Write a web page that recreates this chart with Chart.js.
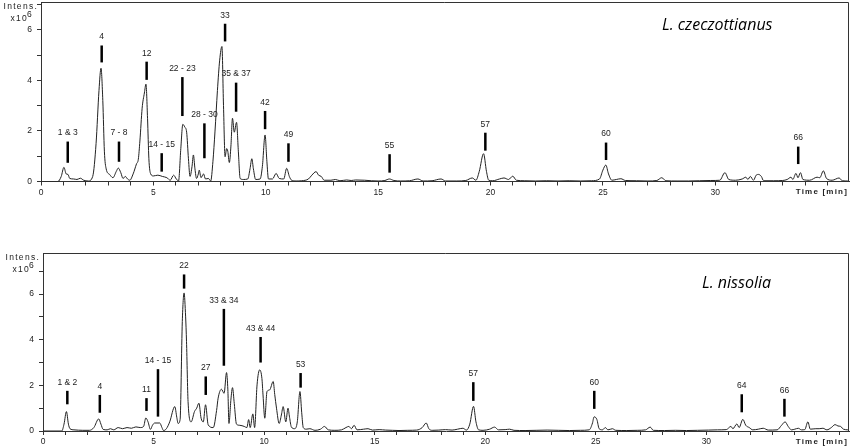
<!DOCTYPE html>
<html>
<head>
<meta charset="utf-8">
<script src="https://cdn.jsdelivr.net/npm/chart.js@4.4.1/dist/chart.umd.min.js"></script>
<style>
    html, body { margin: 0; padding: 0; background: #fff; }
    #wrap { position: relative; width: 851px; height: 447px; overflow: hidden; }
    canvas { position: absolute; left: 0; }
</style>
</head>
<body>
<div id="wrap">
    <canvas id="topChart" width="851" height="225" style="top:-20px"></canvas>
    <canvas id="bottomChart" width="851" height="227" style="top:220px"></canvas>
</div>
<script>
// tick labels shown on the axes
const timeTickLabels = [0, 5, 10, 15, 20, 25, 30];
const intensTickLabels = [0, 2, 4, 6];

// L. czeczottianus trace: [time (min), intensity (x10^6)]
const czeczottianusTrace = [
    [0.0, 0], [0.75, 0], [0.9, 0.2], [1.02, 0.56], [1.12, 0.3], [1.2, 0.28], [1.28, 0.12],
    [1.45, 0.1], [1.6, 0.08], [1.75, 0.13], [1.9, 0.05], [2.1, 0.02], [2.3, 0.2], [2.45, 1.5],
    [2.58, 3.6], [2.67, 4.48], [2.75, 3.2], [2.82, 1.2], [2.9, 0.5], [3.05, 0.28], [3.2, 0.15],
    [3.35, 0.4], [3.44, 0.53], [3.55, 0.35], [3.65, 0.12], [3.75, 0.2], [3.85, 0.1], [3.95, 0.05],
    [4.1, 0.3], [4.25, 0.7], [4.33, 0.88], [4.4, 1.6], [4.5, 2.9], [4.6, 3.5], [4.67, 3.85],
    [4.74, 2.5], [4.8, 0.9], [4.88, 0.3], [5.0, 0.22], [5.2, 0.25], [5.4, 0.2], [5.6, 0.15],
    [5.75, 0.05], [5.9, 0.25], [6.02, 0.1], [6.12, 0.02], [6.22, 1.3], [6.31, 2.26], [6.4, 2.15],
    [6.48, 1.95], [6.56, 0.9], [6.63, 0.2], [6.72, 0.6], [6.78, 1.05], [6.85, 0.5], [6.92, 0.12],
    [7.0, 0.3], [7.04, 0.45], [7.12, 0.15], [7.23, 0.3], [7.32, 0.1], [7.45, 0.12], [7.55, 0.02],
    [7.65, 0.8], [7.74, 1.96], [7.85, 3.6], [7.95, 4.8], [8.05, 5.34], [8.12, 3.0], [8.19, 0.98],
    [8.26, 1.3], [8.31, 1.2], [8.38, 0.75], [8.45, 1.4], [8.52, 2.5], [8.6, 1.95], [8.7, 2.34],
    [8.78, 1.2], [8.86, 0.12], [9.0, 0.08], [9.2, 0.1], [9.3, 0.5], [9.38, 0.9], [9.45, 0.5],
    [9.55, 0.08], [9.75, 0.1], [9.85, 0.6], [9.97, 1.84], [10.05, 0.8], [10.12, 0.1], [10.3, 0.1],
    [10.46, 0.32], [10.6, 0.12], [10.8, 0.1], [10.93, 0.52], [11.05, 0.2], [11.15, 0.05],
    [11.35, 0.02], [11.6, 0.03], [11.9, 0.1], [12.05, 0.25], [12.24, 0.39], [12.35, 0.25],
    [12.47, 0.2], [12.6, 0.05], [12.9, 0.05], [13.1, 0.08], [13.3, 0.03], [13.6, 0.06],
    [13.8, 0.04], [14.0, 0.06], [14.4, 0.05], [14.7, 0.03], [15.0, 0.02], [15.3, 0.04],
    [15.5, 0.1], [15.7, 0.04], [16.0, 0.02], [16.4, 0.03], [16.77, 0.1], [17.0, 0.02],
    [17.4, 0.03], [17.8, 0.1], [18.0, 0.02], [18.5, 0.02], [18.9, 0.04], [19.19, 0.14],
    [19.35, 0.05], [19.5, 0.4], [19.69, 1.1], [19.82, 0.4], [19.92, 0.05], [20.1, 0.03],
    [20.4, 0.1], [20.6, 0.14], [20.8, 0.08], [20.99, 0.21], [21.15, 0.05], [21.5, 0.03],
    [22.0, 0.02], [22.5, 0.03], [23.0, 0.02], [23.5, 0.03], [24.0, 0.02], [24.5, 0.03],
    [24.85, 0.1], [25.0, 0.45], [25.13, 0.65], [25.25, 0.3], [25.4, 0.05], [25.6, 0.08],
    [25.8, 0.11], [26.0, 0.04], [26.5, 0.03], [27.0, 0.02], [27.4, 0.04], [27.62, 0.15],
    [27.8, 0.03], [28.3, 0.02], [28.8, 0.02], [29.3, 0.03], [29.8, 0.04], [30.2, 0.05],
    [30.43, 0.35], [30.6, 0.08], [30.9, 0.05], [31.2, 0.1], [31.36, 0.17], [31.45, 0.08],
    [31.56, 0.2], [31.7, 0.05], [31.82, 0.25], [31.92, 0.28], [32.05, 0.2], [32.15, 0.03],
    [32.6, 0.03], [33.0, 0.04], [33.2, 0.08], [33.37, 0.17], [33.45, 0.08], [33.59, 0.32],
    [33.68, 0.15], [33.79, 0.35], [33.9, 0.08], [34.2, 0.05], [34.53, 0.17], [34.65, 0.15],
    [34.81, 0.42], [34.95, 0.12], [35.2, 0.05], [35.51, 0.14], [35.65, 0.03], [35.9, 0.02]
];

// L. nissolia trace: [time (min), intensity (x10^6)]
const nissoliaTrace = [
    [0.0, 0], [0.85, 0], [0.95, 0.3], [1.06, 0.85], [1.15, 0.3], [1.22, 0.1], [1.4, 0.05],
    [1.8, 0.03], [2.1, 0.03], [2.3, 0.15], [2.52, 0.53], [2.62, 0.3], [2.72, 0.07], [2.9, 0.05],
    [3.05, 0.1], [3.2, 0.05], [3.4, 0.15], [3.6, 0.1], [3.8, 0.15], [4.0, 0.12], [4.2, 0.18],
    [4.4, 0.15], [4.55, 0.2], [4.65, 0.57], [4.75, 0.4], [4.86, 0.07], [4.95, 0.25], [5.05, 0.35],
    [5.28, 0.35], [5.38, 0.15], [5.45, 0.02], [5.58, 0.1], [5.73, 0.4], [5.96, 1.07], [6.05, 0.6],
    [6.11, 0.33], [6.2, 0.5], [6.3, 4.8], [6.38, 6.05], [6.45, 5.0], [6.49, 3.93], [6.56, 1.29],
    [6.7, 0.4], [6.85, 0.85], [6.95, 1.0], [7.05, 1.22], [7.15, 0.56], [7.25, 0.4], [7.35, 1.15],
    [7.47, 0.27], [7.7, 0.15], [7.85, 0.9], [7.92, 1.44], [8.07, 1.83], [8.19, 1.65], [8.3, 2.56],
    [8.36, 1.8], [8.41, 0.33], [8.5, 1.4], [8.57, 1.9], [8.65, 1.2], [8.75, 0.3], [8.9, 0.25],
    [9.1, 0.2], [9.22, 0.15], [9.3, 0.5], [9.37, 0.15], [9.49, 0.75], [9.57, 0.15], [9.68, 2.02],
    [9.8, 2.68], [9.9, 2.3], [9.95, 1.58], [10.03, 0.56], [10.13, 1.73], [10.25, 1.8],
    [10.41, 2.17], [10.48, 1.6], [10.56, 1.0], [10.68, 0.33], [10.78, 0.7], [10.86, 1.07],
    [10.98, 0.4], [11.08, 1.0], [11.15, 0.6], [11.23, 0.18], [11.38, 0.1], [11.5, 0.4],
    [11.62, 1.73], [11.7, 0.8], [11.77, 0.15], [11.9, 0.08], [12.07, 0.1], [12.3, 0.03],
    [12.55, 0.08], [12.73, 0.2], [12.9, 0.05], [13.2, 0.03], [13.5, 0.05], [13.7, 0.15],
    [13.83, 0.2], [13.95, 0.1], [14.07, 0.25], [14.2, 0.05], [14.5, 0.08], [14.7, 0.1],
    [14.9, 0.04], [15.2, 0.06], [15.5, 0.04], [15.8, 0.03], [16.1, 0.02], [16.5, 0.03],
    [16.9, 0.04], [17.15, 0.15], [17.33, 0.35], [17.45, 0.1], [17.6, 0.03], [17.9, 0.04],
    [18.2, 0.06], [18.5, 0.04], [18.75, 0.08], [18.99, 0.12], [19.15, 0.04], [19.3, 0.3],
    [19.47, 1.08], [19.58, 0.4], [19.7, 0.05], [19.9, 0.03], [20.2, 0.08], [20.42, 0.17],
    [20.6, 0.05], [20.9, 0.06], [21.1, 0.08], [21.3, 0.03], [21.8, 0.02], [22.3, 0.03],
    [22.8, 0.04], [23.3, 0.03], [23.8, 0.02], [24.3, 0.03], [24.7, 0.05], [24.85, 0.35],
    [24.92, 0.62], [25.05, 0.5], [25.15, 0.1], [25.3, 0.05], [25.43, 0.15], [25.55, 0.05],
    [25.75, 0.1], [25.9, 0.03], [26.4, 0.02], [26.9, 0.03], [27.25, 0.05], [27.46, 0.17],
    [27.6, 0.03], [28.1, 0.02], [28.6, 0.03], [29.1, 0.02], [29.6, 0.03], [30.1, 0.04],
    [30.5, 0.05], [30.9, 0.06], [31.11, 0.2], [31.2, 0.1], [31.38, 0.31], [31.48, 0.15],
    [31.65, 0.51], [31.78, 0.25], [31.94, 0.15], [32.1, 0.05], [32.35, 0.08], [32.57, 0.12],
    [32.8, 0.04], [33.2, 0.05], [33.4, 0.25], [33.56, 0.4], [33.7, 0.2], [33.85, 0.05],
    [34.0, 0.08], [34.16, 0.12], [34.3, 0.05], [34.45, 0.06], [34.59, 0.4], [34.7, 0.08],
    [34.95, 0.1], [35.1, 0.1], [35.27, 0.12], [35.45, 0.05], [35.65, 0.15], [35.82, 0.28],
    [35.95, 0.22], [36.07, 0.2], [36.2, 0.08], [36.4, 0.05]
];

// peak markers, top panel
const czeczottianusPeaks = ['1 & 3', '4', '7 - 8', '12', '14 - 15', '22 - 23', '28 - 30', '33', '35 & 37', '42', '49', '55', '57', '60', '66'];
const czeczottianusPeakTimes = [1.19, 2.70, 3.47, 4.70, 5.37, 6.29, 7.27, 8.19, 8.68, 9.97, 11.01, 15.51, 19.77, 25.14, 33.69];
const czeczottianusMarkTop = [1.58, 5.38, 1.58, 4.74, 1.12, 4.13, 2.30, 6.24, 3.91, 2.79, 1.51, 1.08, 1.93, 1.54, 1.38];
const czeczottianusMarkBottom = [0.74, 4.71, 0.78, 4.02, 0.39, 2.59, 0.92, 5.54, 2.76, 2.07, 0.78, 0.35, 1.22, 0.85, 0.69];

// peak markers, bottom panel
const nissoliaPeaks = ['1 & 2', '4', '11', '14 - 15', '22', '27', '33 & 34', '43 & 44', '53', '57', '60', '64', '66'];
const nissoliaPeakTimes = [1.10, 2.57, 4.68, 5.20, 6.38, 7.36, 8.18, 9.84, 11.65, 19.46, 24.93, 31.6, 33.53];
const nissoliaMarkTop = [1.76, 1.58, 1.44, 2.71, 6.86, 2.39, 5.35, 4.12, 2.54, 2.14, 1.76, 1.61, 1.41];
const nissoliaMarkBottom = [1.17, 0.80, 0.88, 0.63, 6.24, 1.58, 2.86, 3.00, 1.90, 1.32, 0.97, 0.82, 0.63];

const AXIS_COLOR = '#333';
const TEXT_COLOR = '#222';
const FONT = 'Arial, "Liberation Sans", sans-serif';

Chart.defaults.font.family = FONT;

// draws frame, marker bars, labels, species name and axis captions
const chromatogramDecor = {
    id: 'chromatogramDecor',
    afterDatasetsDraw(chart, args, opts) {
        const ctx = chart.ctx;
        const xs = chart.scales.x;
        const ys = chart.scales.y;
        const area = chart.chartArea;

        ctx.save();

        // top + right border of the plot box
        ctx.strokeStyle = AXIS_COLOR;
        ctx.lineWidth = 1;
        ctx.beginPath();
        ctx.moveTo(area.left, area.top + 0.5);
        ctx.lineTo(area.right - 0.5, area.top + 0.5);
        ctx.lineTo(area.right - 0.5, area.bottom);
        ctx.stroke();

        // peak markers
        ctx.font = '8.5px ' + FONT;
        ctx.textAlign = 'center';
        ctx.textBaseline = 'middle';
        opts.labels.forEach((label, i) => {
            const px = xs.getPixelForValue(opts.times[i]);
            const top = ys.getPixelForValue(opts.tops[i]);
            const bottom = ys.getPixelForValue(opts.bottoms[i]);
            ctx.fillStyle = '#000';
            ctx.fillRect(px - 1.25, top, 2.5, bottom - top);
            ctx.fillStyle = TEXT_COLOR;
            ctx.fillText(label, px, top - 8.5);
        });

        // species name
        ctx.fillStyle = '#000';
        ctx.font = 'italic 16px "Open Sans", sans-serif';
        ctx.textAlign = 'left';
        ctx.fillText(opts.title, opts.titleX, area.top + opts.titleDy);

        // y caption
        ctx.fillStyle = TEXT_COLOR;
        ctx.letterSpacing = '1.3px';
        ctx.font = '8.5px ' + FONT;
        ctx.fillText('Intens.', area.left - 37.5, area.top + 5);
        ctx.fillText('x10', area.left - 30.5, area.top + 17);
        ctx.fillText('6', area.left - 14, area.top + 13);

        // x caption
        ctx.letterSpacing = '1.2px';
        ctx.font = 'bold 8px ' + FONT;
        ctx.textAlign = 'right';
        ctx.fillText('Time [min]', 848, area.bottom + 10.5);
        ctx.letterSpacing = '0px';

        ctx.restore();
    }
};

function createChromatogram(canvasId, trace, panel) {
    const canvas = document.getElementById(canvasId);
    if (!canvas) {
        console.error('Canvas element not found');
        return null;
    }
    const ctx = canvas.getContext('2d');

    return new Chart(ctx, {
        type: 'line',
        data: {
            datasets: [{
                data: trace.map(p => ({ x: p[0], y: p[1] })),
                borderColor: '#222',
                borderWidth: 1,
                pointRadius: 0,
                fill: false,
                cubicInterpolationMode: 'monotone'
            }]
        },
        options: {
            responsive: false,
            animation: false,
            layout: {
                padding: { top: panel.padTop, right: 2, left: 0, bottom: 0 }
            },
            scales: {
                x: {
                    type: 'linear',
                    min: 0,
                    max: panel.xMax,
                    afterFit: scale => { scale.height = panel.xAxisHeight; },
                    border: { display: true, color: AXIS_COLOR, width: 1 },
                    grid: { drawOnChartArea: false, drawTicks: true, tickLength: 4, color: AXIS_COLOR },
                    ticks: {
                        stepSize: 1,
                        includeBounds: false,
                        autoSkip: false,
                        maxRotation: 0,
                        padding: 2,
                        color: TEXT_COLOR,
                        font: { size: 8.5 },
                        callback: v => timeTickLabels.includes(v) ? String(v) : ''
                    }
                },
                y: {
                    min: 0,
                    max: panel.yMax,
                    afterFit: scale => { scale.width = panel.yAxisWidth; },
                    border: { display: true, color: AXIS_COLOR, width: 1 },
                    grid: { drawOnChartArea: false, drawTicks: true, tickLength: 4, color: AXIS_COLOR },
                    ticks: {
                        stepSize: 1,
                        includeBounds: false,
                        autoSkip: false,
                        padding: 5,
                        color: TEXT_COLOR,
                        font: { size: 8.5 },
                        callback: v => intensTickLabels.includes(v) ? String(v) : ''
                    }
                }
            },
            plugins: {
                legend: { display: false },
                tooltip: { enabled: false },
                chromatogramDecor: {
                    labels: panel.labels,
                    times: panel.times,
                    tops: panel.tops,
                    bottoms: panel.bottoms,
                    title: panel.title,
                    titleX: panel.titleX,
                    titleDy: panel.titleDy
                }
            }
        },
        plugins: [chromatogramDecor]
    });
}

// top canvas starts 20px above the page so the plot box can touch the top edge
createChromatogram('topChart', czeczottianusTrace, {
    padTop: 22, xMax: 35.95, yMax: 7.1, xAxisHeight: 23.5, yAxisWidth: 41,
    labels: czeczottianusPeaks, times: czeczottianusPeakTimes,
    tops: czeczottianusMarkTop, bottoms: czeczottianusMarkBottom,
    title: 'L. czeczottianus', titleX: 662, titleDy: 23
});

createChromatogram('bottomChart', nissoliaTrace, {
    padTop: 33, xMax: 36.45, yMax: 7.8, xAxisHeight: 16, yAxisWidth: 43,
    labels: nissoliaPeaks, times: nissoliaPeakTimes,
    tops: nissoliaMarkTop, bottoms: nissoliaMarkBottom,
    title: 'L. nissolia', titleX: 702, titleDy: 30
});
</script>
</body>
</html>
